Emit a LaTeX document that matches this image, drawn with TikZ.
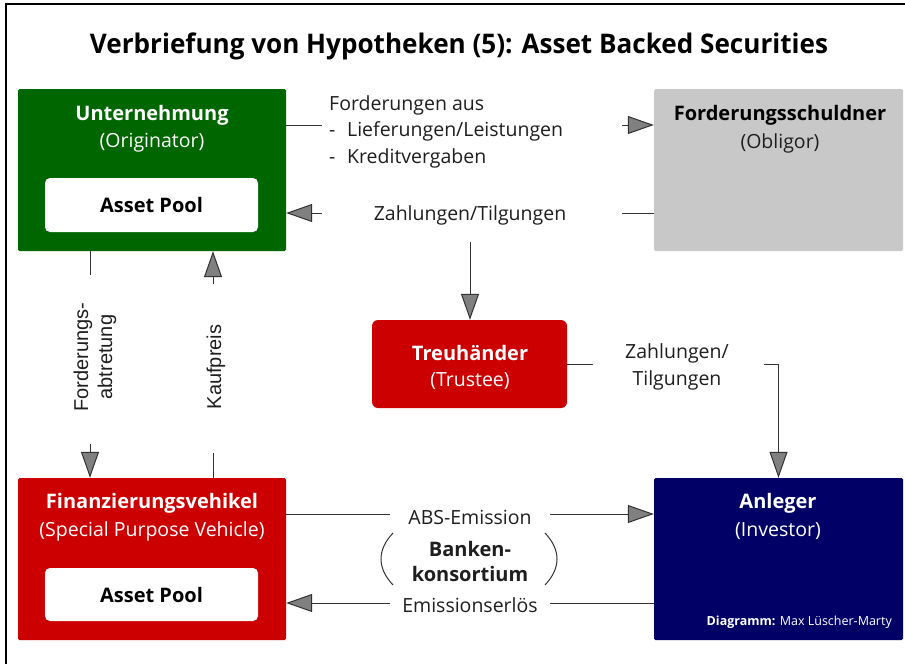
\documentclass[tikz,border=0pt]{standalone}
\usepackage{fontspec}
\setmainfont{Open Sans}
\newfontfamily\arialf{Liberation Sans}
\usetikzlibrary{arrows.meta}
\definecolor{ubsgreen}{RGB}{0,102,0}
\definecolor{oblgray}{RGB}{200,200,200}
\definecolor{ubsred}{RGB}{204,0,0}
\definecolor{ubsnavy}{RGB}{0,0,102}
\definecolor{arrfill}{RGB}{128,128,128}
\definecolor{linecol}{RGB}{50,50,50}
\definecolor{txtcol}{RGB}{30,30,30}
\begin{document}
\begin{tikzpicture}[x=1pt,y=-1pt,
  box/.style={rectangle, rounded corners=1.5pt, inner sep=0pt},
  pool/.style={rectangle, rounded corners=5pt, fill=white, inner sep=0pt, minimum width=213pt, minimum height=54pt, font=\fontsize{20}{24}\selectfont\bfseries, text=black},
  head/.style={font=\fontsize{20}{24}\selectfont\bfseries, text=white, inner sep=0pt},
  sub/.style={font=\fontsize{19.5}{24}\selectfont, text=white, inner sep=0pt},
  lbl/.style={font=\fontsize{19.5}{26.5}\selectfont, text=txtcol, inner sep=0pt},
  rot/.style={font=\arialf\fontsize{20}{24}\selectfont, text=txtcol, inner sep=0pt, rotate=90, align=center},
  conn/.style={draw=linecol, line width=1pt},
  arr/.style={-{Triangle[length=26pt,width=18pt,fill=arrfill]}},
  ]
\useasboundingbox (0,0) rectangle (905,664);
\fill[white] (0,0) rectangle (905,664);
% frame
\draw[line width=2.5pt] (6,670) -- (6,4) -- (912,4);
% title
\node[font=\fontsize{27}{30}\selectfont\bfseries, inner sep=0pt] (title) at (459,46)
  {\resizebox{738pt}{\height}{Verbriefung von Hypotheken (5): Asset Backed Securities}};
% boxes
\node[box, fill=ubsgreen, minimum width=268pt, minimum height=162pt] (unt) at (152,170) {};
\node[box, fill=oblgray, minimum width=249pt, minimum height=162pt] (obl) at (778.5,170) {};
\node[box, rounded corners=6pt, fill=ubsred, minimum width=195pt, minimum height=88pt] (tre) at (469.5,364) {};
\node[box, fill=ubsred, minimum width=268pt, minimum height=162pt] (fin) at (152,559) {};
\node[box, fill=ubsnavy, minimum width=249pt, minimum height=162pt] (anl) at (778.5,559) {};
\node[pool] (pool1) at (151.5,205) {Asset Pool};
\node[pool, minimum height=53pt] (pool2) at (151.5,594.5) {Asset Pool};
% box labels
\node[head] (untH) at (152,115) {Unternehmung};
\node[sub] (untS) at (152,143) {(Originator)};
\node[head, text=black] (oblH) at (780,115) {Forderungsschuldner};
\node[sub, text=txtcol] (oblS) at (780,143) {(Obligor)};
\node[head] (treH) at (470,353) {Treuhänder};
\node[sub] (treS) at (470,381) {(Trustee)};
\node[head] (finH) at (152,503) {Finanzierungsvehikel};
\node[sub] (finS) at (152,531) {(Special Purpose Vehicle)};
\node[head] (anlH) at (778,503) {Anleger};
\node[sub] (anlS) at (778,531) {(Investor)};
\node[anchor=east, text=white, inner sep=0pt, font=\fontsize{12.5}{14}\selectfont] (credit) at (892,622) {\textbf{Diagramm:} Max Lüscher-Marty};
% connector labels
\node[lbl, anchor=north west, align=left] (fordtxt) at (329,95) {Forderungen aus\\-\hspace{0.6em}Lieferungen/Leistungen\\-\hspace{0.6em}Kreditvergaben};
\node[lbl] (zahl1) at (470,215) {Zahlungen/Tilgungen};
\node[lbl, align=center] (zahl2) at (677,367) {Zahlungen/\\Tilgungen};
\node[rot] (fab) at (95,357) {Forderungs-\\abtretung};
\node[rot] (kauf) at (216,367) {Kaufpreis};
\node[lbl] (abs) at (470,517) {ABS-Emission};
\node[lbl] (erl) at (470,605) {Emissionserlös};
\node[lbl, font=\fontsize{20}{25}\selectfont\bfseries, align=center] (bank) at (470,561) {Banken-\\konsortium};
% gap coordinates
\coordinate (f1) at (322,125);
\coordinate (f2) at (622,125);
\coordinate (z1) at (622,213);
\coordinate (z2) at (322,213);
\coordinate (z3) at (470,242);
\coordinate (t1) at (593,364);
\coordinate (t2) at (764,364);
\coordinate (fa1) at (90,275);
\coordinate (fa2) at (90,444);
\coordinate (kp1) at (213,284);
\coordinate (kp2) at (213,453);
\coordinate (a1) at (390,514);
\coordinate (a2) at (550,514);
\coordinate (e1) at (550,603);
\coordinate (e2) at (390,603);
% connectors
\draw[conn] (unt.east |- f1) -- (f1);
\draw[conn, arr] (f2) -- (obl.west |- f2);
\draw[conn] (obl.west |- z1) -- (z1);
\draw[conn, arr] (z2) -- (unt.east |- z2);
\draw[conn, arr] (z3) -- (tre.north -| z3);
\draw[conn] (tre.east |- t1) -- (t1);
\draw[conn, arr] (t2) -| (anl.north);
\draw[conn] (unt.south -| fa1) -- (fa1);
\draw[conn, arr] (fa2) -- (fin.north -| fa2);
\draw[conn, arr] (kp1) -- (unt.south -| kp1);
\draw[conn] (fin.north -| kp2) -- (kp2);
\draw[conn] (fin.east |- a1) -- (a1);
\draw[conn, arr] (a2) -- (anl.west |- a2);
\draw[conn] (anl.west |- e1) -- (e1);
\draw[conn, arr] (e2) -- (fin.east |- e2);
% parentheses
\draw[conn] (393,533) .. controls (377,550) and (377,568) .. (393,585);
\draw[conn] (545,533) .. controls (561,550) and (561,568) .. (545,585);
\end{tikzpicture}
\end{document}
